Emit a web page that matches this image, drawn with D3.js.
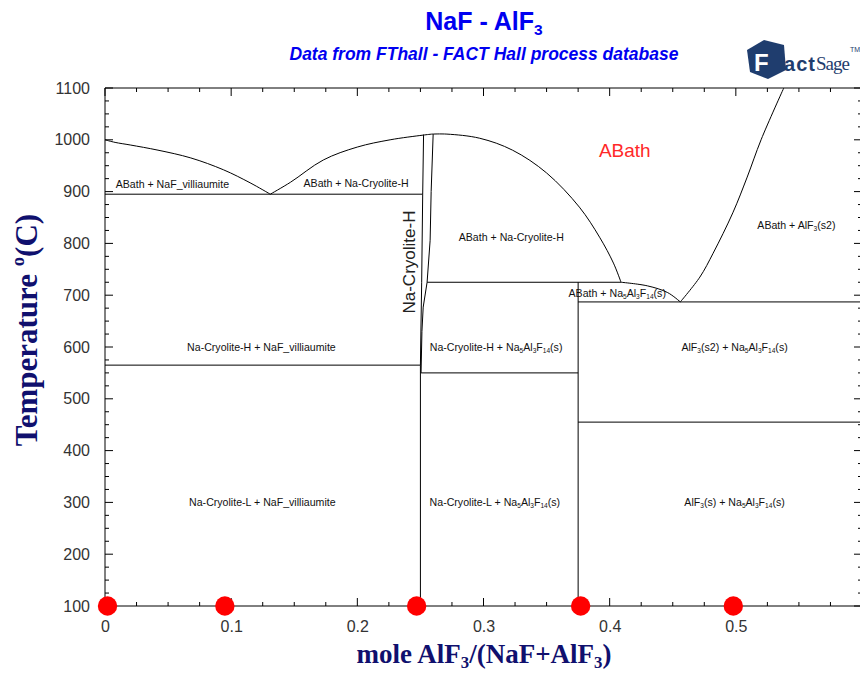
<!DOCTYPE html>
<html><head><meta charset="utf-8">
<script src="https://cdn.jsdelivr.net/npm/d3@7"></script>
<style>body{margin:0;background:#fff}svg{display:block}</style>
</head><body>
<svg id="c" width="860" height="673"></svg>
<script>
// ---- data ----
const xTicks = [0, 0.1, 0.2, 0.3, 0.4, 0.5];
const yTicks = [100, 200, 300, 400, 500, 600, 700, 800, 900, 1000, 1100];
const liqNaF = [[0,1000],[0.008,995],[0.02,990],[0.042,980],[0.068,965],[0.094,942],[0.115,917],[0.131,895]];
const liqCryLeft = [[0.131,895],[0.147,918],[0.173,961],[0.2,986],[0.226,1000],[0.252,1009],[0.259,1011]];
const liqCryRight = [[0.259,1011],[0.271,1011],[0.297,1003],[0.323,980],[0.35,936],[0.376,870],[0.392,812],[0.403,762],[0.409,725]];
const liqChiolite = [[0.409,725],[0.43,718],[0.446,705],[0.456,687]];
const liqAlF3 = [[0.456,687],[0.4715,735],[0.482,781],[0.4976,859],[0.509,928],[0.52,1000],[0.538,1100]];
const cryLeft = [[0.2525,1010],[0.2518,895],[0.251,725],[0.2502,600],[0.25,565],[0.25,100]];
const cryRight = [[0.2601,1011],[0.2585,900],[0.2577,806],[0.2553,725],[0.2522,677],[0.2512,630],[0.2505,550]];
const chioliteLine = [[0.375,725],[0.375,100]];
// isotherms: [x0, x1, T]
const isotherms = [[0,0.2518,895],[0,0.25,565],[0.2505,0.375,550],[0.2553,0.409,725],[0.375,0.6,687],[0.375,0.6,455]];
// region labels: [text, x, T]
const regionLabels = [
  ["ABath + NaF_villiaumite", 0.0534, 913],
  ["ABath + Na-Cryolite-H", 0.199, 915],
  ["ABath + Na-Cryolite-H", 0.322, 812],
  ["ABath + AlF{3}(s2)", 0.548, 834],
  ["ABath + Na{5}Al{3}F{14}(s)", 0.406, 704],
  ["Na-Cryolite-H + NaF_villiaumite", 0.124, 600],
  ["Na-Cryolite-H + Na{5}Al{3}F{14}(s)", 0.31, 600],
  ["AlF{3}(s2) + Na{5}Al{3}F{14}(s)", 0.499, 600],
  ["Na-Cryolite-L + NaF_villiaumite", 0.1247, 300],
  ["Na-Cryolite-L + Na{5}Al{3}F{14}(s)", 0.309, 300],
  ["AlF{3}(s) + Na{5}Al{3}F{14}(s)", 0.499, 300]
];
const bigLabel = ["ABath", 0.412, 980];
const phaseLabel = ["Na-Cryolite-H", 0.241, 764];
const expPoints = [[0.002,100],[0.095,100],[0.247,100],[0.377,100],[0.498,100]];

// ---- chart ----
const svg = d3.select("#c");
const x = d3.scaleLinear([0, 0.6], [105, 862]);
const y = d3.scaleLinear([100, 1100], [606, 88]);

function rich(sel, str, size) {
  const parts = str.split(/(\{[^}]*\}|\^\{[^}]*\})/).filter(s => s.length);
  let shift = 0;
  parts.forEach(p => {
    let t, target = 0, fs = size;
    if (p.startsWith("^{")) { t = p.slice(2, -1); target = -0.42 * size; fs = size * 0.6; }
    else if (p.startsWith("{")) { t = p.slice(1, -1); target = 0.2 * size; fs = size * 0.62; }
    else { t = p; }
    sel.append("tspan").attr("dy", target - shift).attr("font-size", fs).text(t);
    shift = target;
  });
}

// frame
const g = svg.append("g").attr("stroke", "#000");
g.append("line").attr("x1", x(0)).attr("x2", x(0)).attr("y1", y(100)).attr("y2", y(1100));
g.append("line").attr("x1", x(0)).attr("x2", x(0.6)).attr("y1", y(100)).attr("y2", y(100));
g.append("line").attr("x1", x(0)).attr("x2", x(0.6)).attr("y1", y(1100)).attr("y2", y(1100));
g.append("line").attr("x1", x(0.6)).attr("x2", x(0.6)).attr("y1", y(100)).attr("y2", y(1100));

// ticks
const yMinor = d3.range(100, 1100.01, 25);
const xMinor = d3.range(0, 0.6001, 0.025);
const tk = svg.append("g").attr("stroke", "#000").attr("stroke-width", 1);
yMinor.forEach(v => {
  const L = (Math.round(v) % 100 === 0) ? 8 : 4;
  tk.append("line").attr("x1", x(0)).attr("x2", x(0) + L).attr("y1", y(v)).attr("y2", y(v));
  tk.append("line").attr("x1", x(0.6)).attr("x2", x(0.6) - L).attr("y1", y(v)).attr("y2", y(v));
});
xMinor.forEach(v => {
  const L = (Math.abs(v * 10 - Math.round(v * 10)) < 1e-6) ? 8 : 4;
  tk.append("line").attr("x1", x(v)).attr("x2", x(v)).attr("y1", y(100)).attr("y2", y(100) - L);
  tk.append("line").attr("x1", x(v)).attr("x2", x(v)).attr("y1", y(1100)).attr("y2", y(1100) + L);
});

// axis labels via d3 axes
const ax = svg.append("g").attr("transform", `translate(0,${y(100)})`)
  .call(d3.axisBottom(x).tickValues(xTicks).tickSize(0).tickPadding(15).tickFormat(d => d === 0 ? "0" : d3.format(".1f")(d)));
const ay = svg.append("g").attr("transform", `translate(${x(0)},0)`)
  .call(d3.axisLeft(y).tickValues(yTicks).tickSize(0).tickPadding(15).tickFormat(d3.format("d")));
[ax, ay].forEach(a => {
  a.select(".domain").remove();
  a.selectAll("text").attr("font-family", "Liberation Sans, Arial, sans-serif").attr("font-size", 16).attr("fill", "#333");
});

// phase boundaries
const line = d3.line().x(d => x(d[0])).y(d => y(d[1])).curve(d3.curveCatmullRom);
const lineLin = d3.line().x(d => x(d[0])).y(d => y(d[1]));
const pb = svg.append("g").attr("fill", "none").attr("stroke", "#000").attr("stroke-width", 1);
[liqNaF, liqCryLeft, liqCryRight, liqChiolite, liqAlF3].forEach(a => pb.append("path").attr("d", line(a)));
[cryLeft, cryRight, chioliteLine].forEach(a => pb.append("path").attr("d", lineLin(a)));
isotherms.forEach(d => pb.append("line").attr("x1", x(d[0])).attr("x2", x(d[1])).attr("y1", y(d[2])).attr("y2", y(d[2])));

// region labels
const lab = svg.append("g").attr("font-family", "Liberation Sans, Arial, sans-serif").attr("fill", "#111").attr("text-anchor", "middle");
regionLabels.forEach(d => {
  const t = lab.append("text").attr("x", x(d[1])).attr("y", y(d[2]) + 3.5).attr("font-size", 10.6);
  rich(t, d[0], 10.6);
});
svg.append("text").attr("x", x(bigLabel[1])).attr("y", y(bigLabel[2]) + 7).attr("text-anchor", "middle")
  .attr("font-family", "Liberation Sans, Arial, sans-serif").attr("font-size", 19).attr("fill", "#ff2828").text(bigLabel[0]);
svg.append("text").attr("transform", `translate(${x(phaseLabel[1]) + 6},${y(phaseLabel[2])}) rotate(-90)`)
  .attr("text-anchor", "middle").attr("font-family", "Liberation Sans, Arial, sans-serif").attr("font-size", 17).attr("fill", "#222").text(phaseLabel[0]);

// experimental points
svg.append("g").selectAll("circle").data(expPoints).join("circle")
  .attr("cx", d => x(d[0])).attr("cy", d => y(d[1])).attr("r", 9.7).attr("fill", "#ff0000");

// titles
const t1 = svg.append("text").attr("x", 484).attr("y", 30).attr("text-anchor", "middle")
  .attr("font-family", "Liberation Sans, Arial, sans-serif").attr("font-weight", "bold").attr("font-size", 25).attr("fill", "#0000f0");
rich(t1, "NaF - AlF{3}", 25);
svg.append("text").attr("x", 484).attr("y", 60).attr("text-anchor", "middle")
  .attr("font-family", "Liberation Sans, Arial, sans-serif").attr("font-weight", "bold").attr("font-style", "italic").attr("font-size", 17.5).attr("fill", "#0000f0")
  .text("Data from FThall - FACT Hall process database");
const xt = svg.append("text").attr("x", 484).attr("y", 663).attr("text-anchor", "middle")
  .attr("font-family", "Liberation Serif, Times New Roman, serif").attr("font-weight", "bold").attr("font-size", 27).attr("fill", "#10106e");
rich(xt, "mole AlF{3}/(NaF+AlF{3})", 27);
const yt = svg.append("text").attr("transform", "translate(37,330) rotate(-90)").attr("text-anchor", "middle")
  .attr("font-family", "Liberation Serif, Times New Roman, serif").attr("font-weight", "bold").attr("font-size", 31).attr("fill", "#10106e");
rich(yt, "Temperature ^{o}(C)", 31);

// FactSage logo
const lg = svg.append("g");
lg.append("path").attr("d", "M747,50 L764,40 L784,45 L786,70 L768,79 L750,72 Z").attr("fill", "#1f3d6e");
lg.append("text").attr("x", 754).attr("y", 71).attr("font-family", "Liberation Sans, Arial, sans-serif").attr("font-weight", "bold").attr("font-size", 24).attr("fill", "#fff").text("F");
lg.append("text").attr("x", 784).attr("y", 71).attr("font-family", "Liberation Sans, Arial, sans-serif").attr("font-weight", "bold").attr("font-size", 20).attr("fill", "#1f3d6e").attr("textLength", 31).text("act");
lg.append("text").attr("x", 816).attr("y", 70).attr("font-family", "Liberation Serif, serif").attr("font-size", 19).attr("fill", "#1f3d6e").attr("textLength", 34).text("Sage");
lg.append("text").attr("x", 850).attr("y", 52).attr("font-family", "Liberation Sans, Arial, sans-serif").attr("font-size", 7).attr("fill", "#1f3d6e").text("TM");
</script>
</body></html>
